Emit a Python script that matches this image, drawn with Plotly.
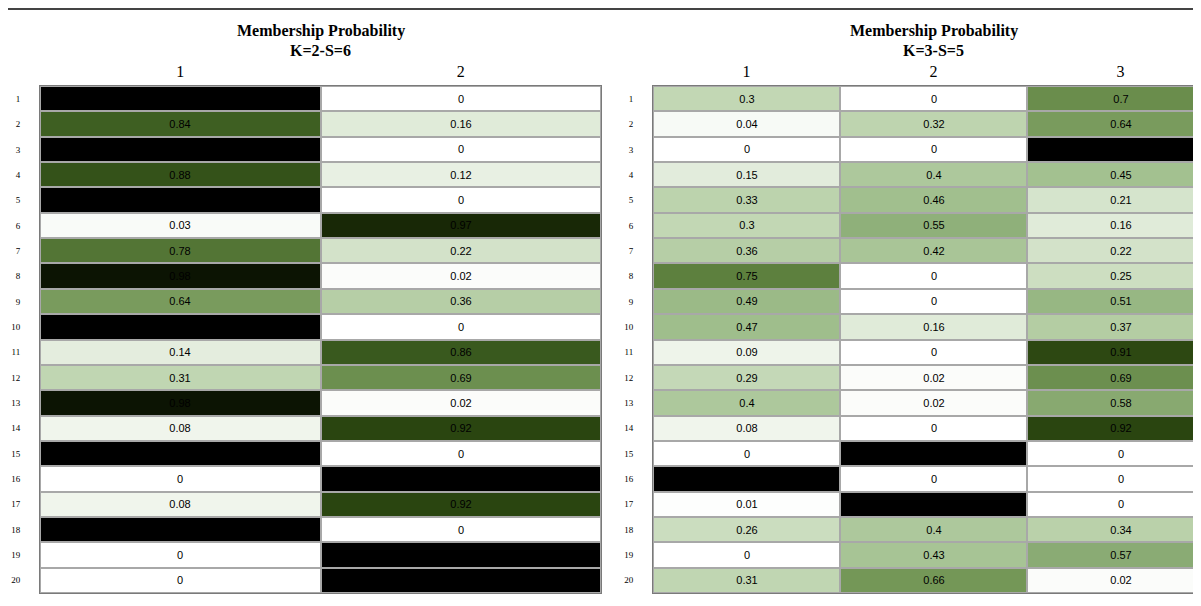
import plotly.graph_objects as go

rows = list(range(1, 21))
row_labels = [str(r) for r in rows]

# K=2-S=6
k2_cols = ["1", "2"]
k2_c1 = [1, 0.84, 1, 0.88, 1, 0.03, 0.78, 0.98, 0.64, 1, 0.14, 0.31, 0.98, 0.08, 1, 0, 0.08, 1, 0, 0]
k2_c2 = [0, 0.16, 0, 0.12, 0, 0.97, 0.22, 0.02, 0.36, 0, 0.86, 0.69, 0.02, 0.92, 0, 1, 0.92, 0, 1, 1]

# K=3-S=5
k3_cols = ["1", "2", "3"]
k3_c1 = [0.3, 0.04, 0, 0.15, 0.33, 0.3, 0.36, 0.75, 0.49, 0.47, 0.09, 0.29, 0.4, 0.08, 0, 1, 0.01, 0.26, 0, 0.31]
k3_c2 = [0, 0.32, 0, 0.4, 0.46, 0.55, 0.42, 0, 0, 0.16, 0, 0.02, 0.02, 0, 1, 0, 0.99, 0.4, 0.43, 0.66]
k3_c3 = [0.7, 0.64, 1, 0.45, 0.21, 0.16, 0.22, 0.25, 0.51, 0.37, 0.91, 0.69, 0.58, 0.92, 0, 0, 0, 0.34, 0.57, 0.02]

title_main = "Membership Probability"
title_left = "K=2-S=6"
title_right = "K=3-S=5"

colorscale = [
    [0.0, "#ffffff"],
    [0.15, "#e2ecdc"],
    [0.3, "#c2d7b4"],
    [0.45, "#a3c190"],
    [0.55, "#8fb07a"],
    [0.65, "#76995a"],
    [0.75, "#5d803e"],
    [0.84, "#3e5f22"],
    [0.92, "#2a4510"],
    [0.97, "#182806"],
    [0.99, "#000000"],
    [1.0, "#000000"],
]

def transpose(cols):
    return [list(r) for r in zip(*cols)]

# page has an 8px body margin
W, H = 1193, 598
OFF = 8

fig = go.Figure()

common = dict(
    colorscale=colorscale, zmin=0, zmax=1, showscale=False,
    texttemplate="%{z}", textfont=dict(family="Liberation Sans, Arial", size=11, color="#000000"),
    xgap=2, ygap=2, hoverinfo="skip",
)

fig.add_trace(go.Heatmap(z=transpose([k2_c1, k2_c2]), x=list(range(len(k2_cols))), y=rows,
                         xaxis="x", yaxis="y", **common))
fig.add_trace(go.Heatmap(z=transpose([k3_c1, k3_c2, k3_c3]), x=list(range(len(k3_cols))), y=rows,
                         xaxis="x2", yaxis="y2", **common))

def px_x(x):
    return (x - OFF) / W

def px_y(y):
    return 1 - (y - OFF) / H

y0 = px_y(593)
y1 = px_y(86)
xl0, xl1 = px_x(40), px_x(601)
xr0, xr1 = px_x(653), 1.0
colw_r = 187.0
xr_max = -0.5 + (OFF + W - 653) / colw_r

axis_line = dict(showline=True, linecolor="#7a7a7a", linewidth=1, mirror=True,
                 showgrid=False, zeroline=False)
xtick_font = dict(family="Liberation Serif, Times New Roman", size=16, color="#000000")
ytick_font = dict(family="Liberation Serif, Times New Roman", size=9, color="#000000")

fig.update_layout(
    width=W, height=H, margin=dict(l=0, r=0, t=0, b=0),
    paper_bgcolor="white", plot_bgcolor="#a8a8a8",
    xaxis=dict(domain=[xl0, xl1], range=[-0.5, 1.5], side="top", tickmode="array",
               tickvals=list(range(len(k2_cols))), ticktext=k2_cols, tickfont=xtick_font,
               ticks="", ticklabelstandoff=2, anchor="y", fixedrange=True, **axis_line),
    yaxis=dict(domain=[y0, y1], range=[20.5, 0.5], tickmode="array", tickvals=rows,
               ticktext=row_labels, tickfont=ytick_font, ticks="", ticklabelstandoff=17,
               anchor="x", fixedrange=True, **axis_line),
    xaxis2=dict(domain=[xr0, xr1], range=[-0.5, xr_max], side="top", tickmode="array",
                tickvals=list(range(len(k3_cols))), ticktext=k3_cols, tickfont=xtick_font,
                ticks="", ticklabelstandoff=2, anchor="y2", fixedrange=True, **axis_line),
    yaxis2=dict(domain=[y0, y1], range=[20.5, 0.5], tickmode="array", tickvals=rows,
                ticktext=row_labels, tickfont=ytick_font, ticks="", ticklabelstandoff=17,
                anchor="x2", fixedrange=True, **axis_line),
    showlegend=False,
)

title_font = dict(family="Liberation Serif, Times New Roman", size=16, color="#000000")
for cx, sub in [(px_x((40 + 601) / 2), title_left), (px_x((653 + 1214) / 2), title_right)]:
    fig.add_annotation(x=cx, y=px_y(31), xref="paper", yref="paper", showarrow=False,
                       text="<b>" + title_main + "</b>", font=title_font, xanchor="center", yanchor="middle")
    fig.add_annotation(x=cx, y=px_y(50.5), xref="paper", yref="paper", showarrow=False,
                       text="<b>" + sub + "</b>", font=title_font, xanchor="center", yanchor="middle")

fig.add_shape(type="line", xref="paper", yref="paper", x0=0, x1=1, y0=px_y(9), y1=px_y(9),
              line=dict(color="#444444", width=2))

fig.write_html("out.html")
